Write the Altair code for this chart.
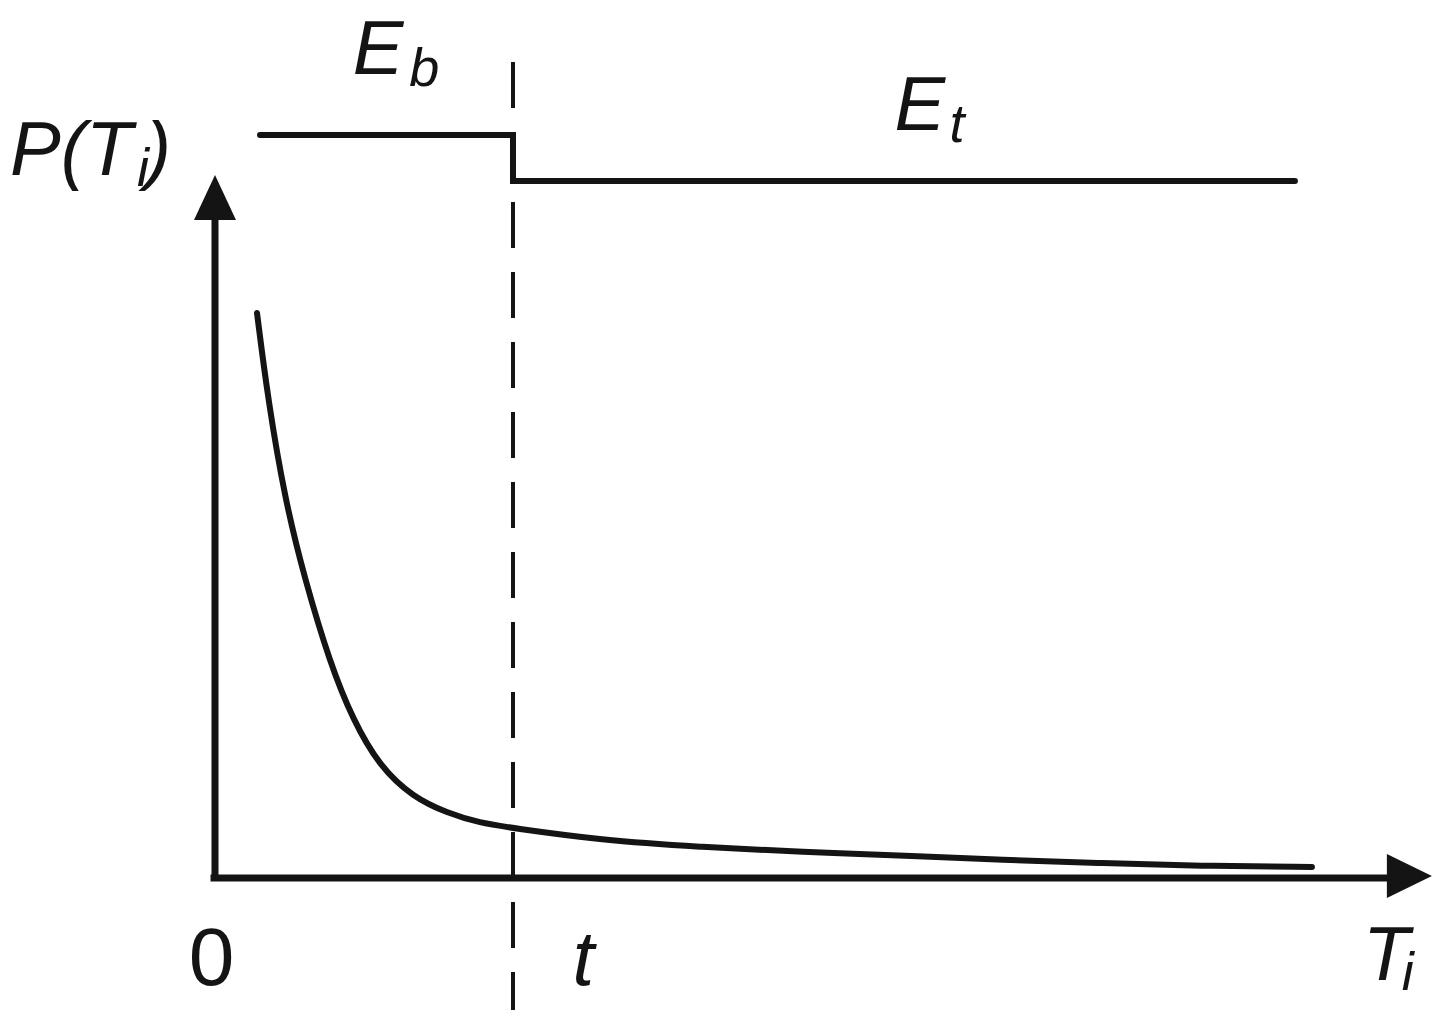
import altair as alt
import pandas as pd

# ---- data (in chart units) ----
# decaying probability curve P(T_i)
curve_T = [0.141, 0.178, 0.235, 0.302, 0.386, 0.463, 0.554, 0.664, 0.779, 0.889,
           1.000, 1.292, 1.628, 1.963, 2.356, 2.634, 2.970, 3.305, 3.681]
curve_P = [5.65, 4.78, 3.78, 2.98, 2.15, 1.58, 1.11, 0.81, 0.65, 0.55,
           0.50, 0.38, 0.31, 0.26, 0.22, 0.18, 0.15, 0.12, 0.11]

# energy level step (E_b before t, E_t after t)
step_T = [0.151, 1.000, 3.624]
step_P = [7.43, 6.97, 6.97]

# threshold time t
t_value = 1.0
dash_P = [8.16, -1.32]

# axis extents
xaxis_T = [-0.015, 3.95]
yaxis_P = [-0.03, 6.6]
arrow_up = (0.0, 6.805)
arrow_right = (4.008, 0.02)

# labels
lab_text = ["E", "b", "E", "t", "P(T", "i", ")", "t", "T", "i"]
lab_T = [0.462, 0.652, 2.280, 2.465, -0.688, -0.262, -0.232, 1.200, 3.852, 3.982]
lab_P = [8.04, 7.92, 7.48, 7.36, 7.03, 6.92, 7.03, -1.07, -1.02, -1.12]
lab_size = [76, 54, 76, 54, 76, 54, 76, 78, 76, 54]
zero_text = ["0"]
zero_T = [-0.088]
zero_P = [-1.07]

INK = "#141414"
xs = alt.Scale(domain=[-0.6946, 4.104], nice=False, zero=False)
ys = alt.Scale(domain=[-1.4, 8.7], nice=False, zero=False)

curve_df = pd.DataFrame({"T": curve_T, "P": curve_P})
step_df = pd.DataFrame({"T": step_T, "P": step_P})
dash_df = pd.DataFrame({"T": [t_value], "P": [dash_P[0]], "P2": [dash_P[1]]})
xaxis_df = pd.DataFrame({"T": [xaxis_T[0]], "T2": [xaxis_T[1]], "P": [0.0]})
yaxis_df = pd.DataFrame({"T": [0.0], "P": [yaxis_P[0]], "P2": [yaxis_P[1]]})
up_df = pd.DataFrame({"T": [arrow_up[0]], "P": [arrow_up[1]]})
right_df = pd.DataFrame({"T": [arrow_right[0]], "P": [arrow_right[1]]})
lab_df = pd.DataFrame({"text": lab_text, "T": lab_T, "P": lab_P, "size": lab_size})
zero_df = pd.DataFrame({"text": zero_text, "T": zero_T, "P": zero_P})

X = lambda: alt.X("T:Q", scale=xs, axis=None)
Y = lambda: alt.Y("P:Q", scale=ys, axis=None)

curve = alt.Chart(curve_df).mark_line(
    color=INK, strokeWidth=6, interpolate="basis", strokeCap="round"
).encode(x=X(), y=Y())

step = alt.Chart(step_df).mark_line(
    color=INK, strokeWidth=6, interpolate="step-after", strokeCap="round"
).encode(x=X(), y=Y())

dash = alt.Chart(dash_df).mark_rule(
    color=INK, strokeWidth=4, strokeDash=[46, 24]
).encode(x=X(), y=Y(), y2="P2:Q")

xaxis = alt.Chart(xaxis_df).mark_rule(color=INK, strokeWidth=7).encode(
    x=X(), x2="T2:Q", y=Y())
yaxis = alt.Chart(yaxis_df).mark_rule(color=INK, strokeWidth=7).encode(
    x=X(), y=Y(), y2="P2:Q")

up = alt.Chart(up_df).mark_point(
    shape="M0,-1L0.933,1L-0.933,1Z", filled=True, size=2025, color=INK, opacity=1
).encode(x=X(), y=Y())
right = alt.Chart(right_df).mark_point(
    shape="M1,0L-1,-0.978L-1,0.978Z", filled=True, size=2025, color=INK, opacity=1
).encode(x=X(), y=Y())

labels = alt.Chart(lab_df).mark_text(
    font="Liberation Sans", fontStyle="italic", align="left", baseline="alphabetic", color=INK
).encode(x=X(), y=Y(), text="text:N", size=alt.Size("size:Q", scale=None))

zero = alt.Chart(zero_df).mark_text(
    font="Liberation Sans", fontSize=82, align="left", baseline="alphabetic", color=INK
).encode(x=X(), y=Y(), text="text:N")

chart = alt.layer(dash, xaxis, yaxis, up, right, step, curve, labels, zero).properties(
    width=1430, height=1010, padding=0, autosize=alt.AutoSizeParams(type="none"),
    background="white"
).configure_view(strokeWidth=0)

chart.save("out.html", embed_options={"renderer": "svg", "actions": False})
